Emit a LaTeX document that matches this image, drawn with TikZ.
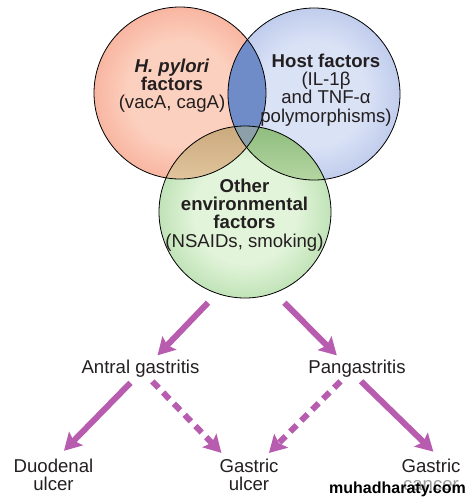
\documentclass[tikz,border=0pt]{standalone}
\usepackage{fontspec}
\setmainfont{Liberation Sans}
\usetikzlibrary{arrows.meta}
\definecolor{ink}{RGB}{35,31,32}
\definecolor{arrow}{RGB}{183,92,175}
\definecolor{hpin}{RGB}{252,208,190}
\definecolor{hpout}{RGB}{238,116,90}
\definecolor{hostin}{RGB}{218,226,246}
\definecolor{hostout}{RGB}{128,152,212}
\definecolor{envin}{RGB}{226,244,218}
\definecolor{envout}{RGB}{110,186,98}
\definecolor{lensrb}{RGB}{112,140,200}
\definecolor{lensrgtop}{RGB}{200,166,122}
\definecolor{lensrgbot}{RGB}{230,202,162}
\definecolor{lensbgtop}{RGB}{138,186,122}
\definecolor{lensbgbot}{RGB}{188,218,168}
\definecolor{lensall}{RGB}{140,160,170}
\pgfdeclareradialshading{hpball}{\pgfpointorigin}{color(0bp)=(hpin);color(15bp)=(hpin);color(50bp)=(hpout);color(72bp)=(hpout)}
\pgfdeclareradialshading{hostball}{\pgfpointorigin}{color(0bp)=(hostin);color(15bp)=(hostin);color(50bp)=(hostout);color(72bp)=(hostout)}
\pgfdeclareradialshading{envball}{\pgfpointorigin}{color(0bp)=(envin);color(15bp)=(envin);color(50bp)=(envout);color(72bp)=(envout)}
\tikzset{
  ball/.style={circle, minimum size=172pt, inner sep=0pt, outer sep=0pt, shade, shading=#1},
  rim/.style={draw=black, line width=0.8pt},
  txt/.style={font=\fontsize{18.6}{18.3}\selectfont, text=ink, align=center, inner sep=2pt, anchor=north},
  arr/.style={draw=arrow, line width=6pt, -{Stealth[length=17pt,width=19pt,inset=3pt]}},
  dasharr/.style={arr, dash pattern=on 9pt off 6.5pt},
  wmark/.style={font=\fontsize{16}{16}\selectfont\bfseries, text=black, fill=white, fill opacity=0.55, text opacity=1, inner sep=1pt}
}
\begin{document}
\begin{tikzpicture}[x=1pt, y=-1pt]
    \useasboundingbox (0,0) rectangle (475,499);
    %Circles
    \node[ball=hpball] (hp) at (180,93) {};
    \node[ball=hostball] (host) at (314,94) {};
    \node[ball=envball] (env) at (245,212) {};
    %Overlaps
    \begin{scope}
        \clip (hp.center) circle[radius=86pt];
        \fill[lensrb] (host.center) circle[radius=86pt];
        \clip (env.center) circle[radius=86pt];
        \shade[top color=lensrgtop, bottom color=lensrgbot] (150,120) rectangle (275,190);
    \end{scope}
    \begin{scope}
        \clip (host.center) circle[radius=86pt];
        \clip (env.center) circle[radius=86pt];
        \shade[top color=lensbgtop, bottom color=lensbgbot] (215,120) rectangle (345,190);
        \clip (hp.center) circle[radius=86pt];
        \fill[lensall] (200,100) rectangle (290,190);
    \end{scope}
    %Outlines
    \draw[rim] (hp.center) circle[radius=86pt];
    \draw[rim] (host.center) circle[radius=86pt];
    \draw[rim] (env.center) circle[radius=86pt];
    %Texts
    \node[txt] (hptext) at (172,56.5) {\textbf{\textit{H. pylori}}\\\textbf{factors}\\(vacA, cagA)};
    \node[txt] (hosttext) at (326,51.5) {\textbf{Host factors}\\(IL-1β\\and TNF-α\\polymorphisms)};
    \node[txt] (envtext) at (244.5,176.5) {\textbf{Other}\\\textbf{environmental}\\\textbf{factors}\\(NSAIDs, smoking)};
    \node[txt] (antral) at (140.5,357.5) {Antral gastritis};
    \node[txt] (pan) at (357,357.5) {Pangastritis};
    \node[txt] (duo) at (53.5,456.5) {Duodenal\\ulcer};
    \node[txt] (gu) at (249,456.5) {Gastric\\ulcer};
    \node[txt] (gc) at (431,456.5) {Gastric\\cancer};
    %Arrows
    \draw[arr, shorten <=13pt, shorten >=3pt] (env.251) -- (antral.36);
    \draw[arr, shorten <=14pt, shorten >=3pt] (env.290) -- (pan.149);
    \draw[arr, shorten <=5pt, shorten >=8pt] (antral.239) -- (duo.75);
    \draw[dasharr, shorten <=3pt, shorten >=5pt] (antral.312) -- (gu.143);
    \draw[dasharr, shorten <=3pt, shorten >=5pt] (pan.217) -- (gu.48);
    \draw[arr, shorten <=3pt, shorten >=7pt] (pan.280) -- (gc.68);
    %Watermark
    \node[wmark, anchor=base west] (wm) at (328,493) {muhadharaty.com};
\end{tikzpicture}
\end{document}
